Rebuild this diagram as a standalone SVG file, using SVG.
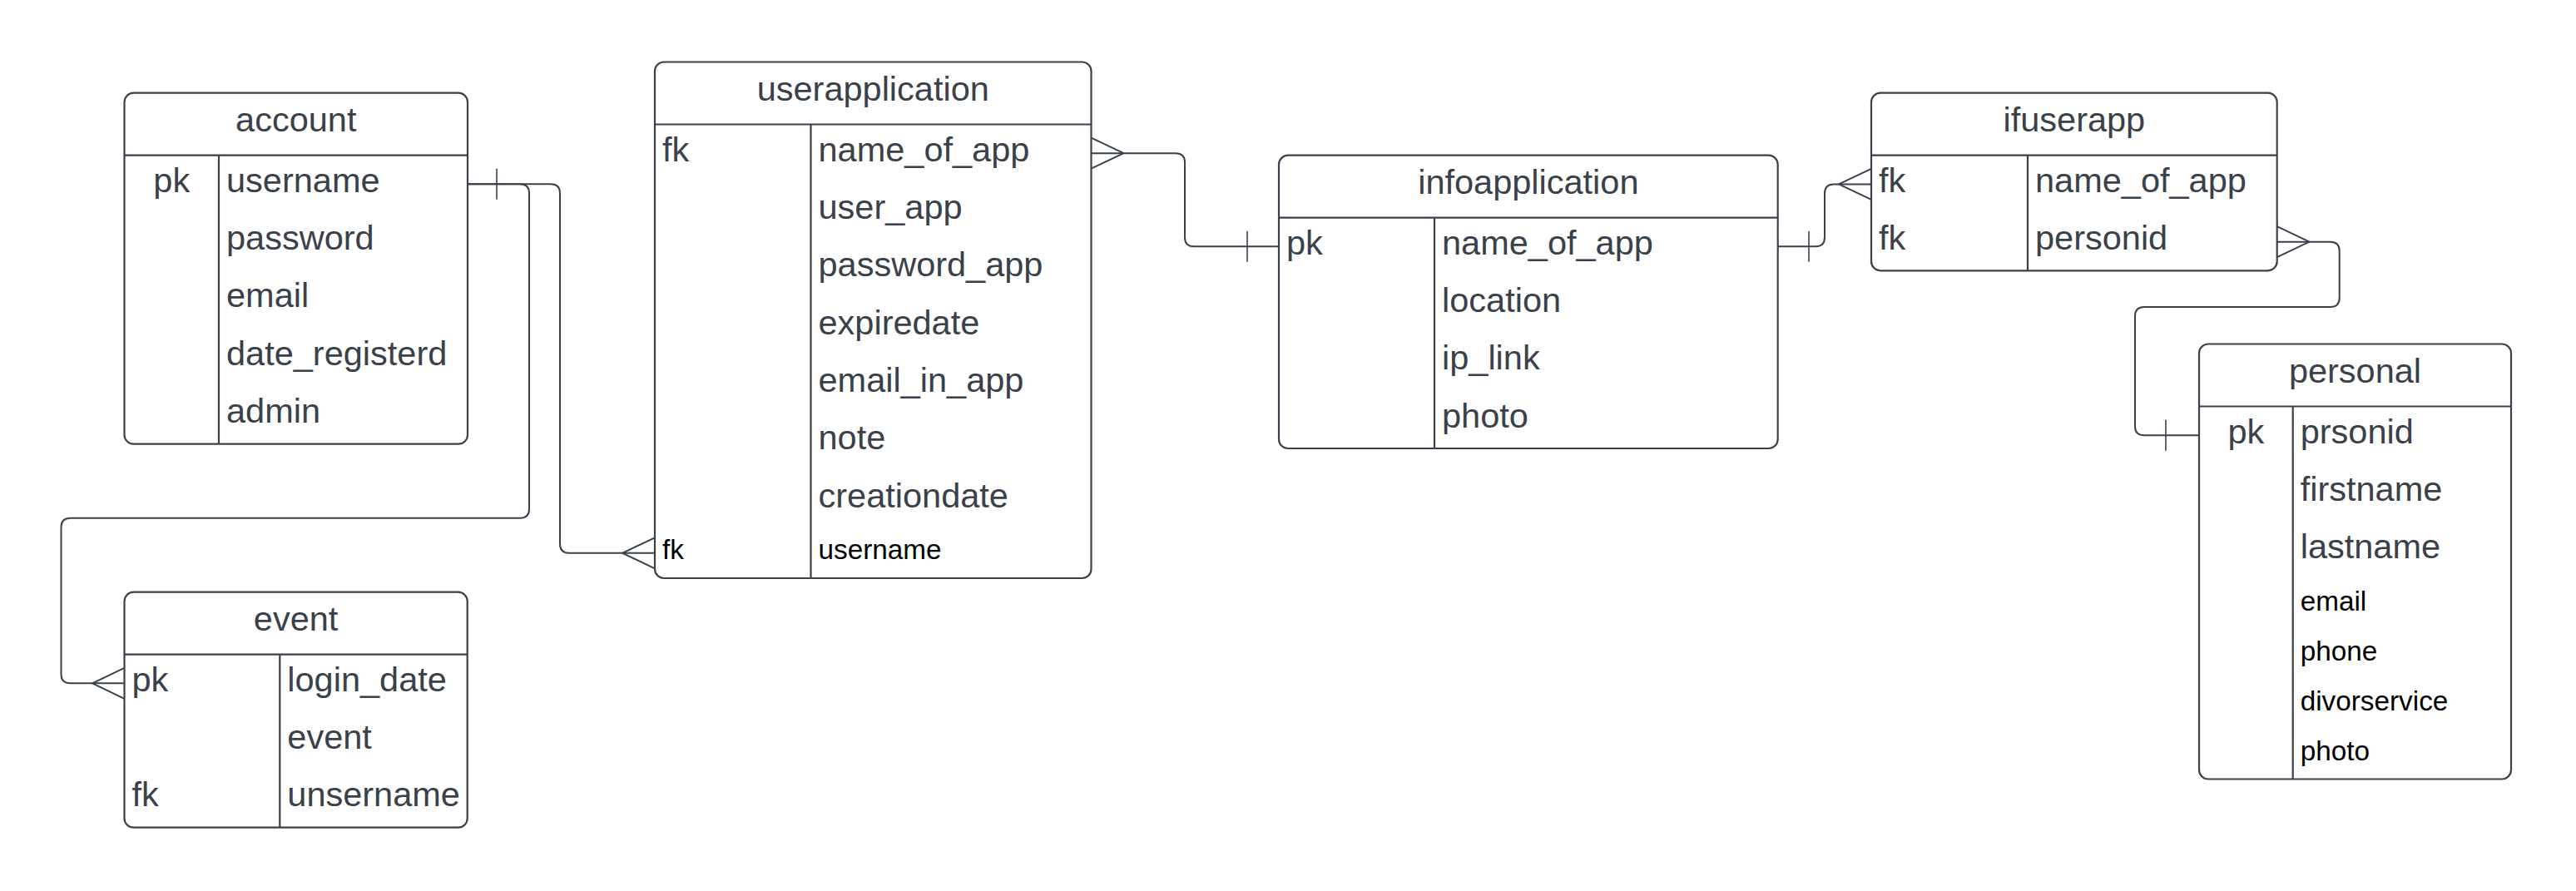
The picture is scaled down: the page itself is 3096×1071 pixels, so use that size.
<svg xmlns="http://www.w3.org/2000/svg" width="3096" height="1071" viewBox="0 0 3096 1071">
<style>
.box{fill:#ffffff;stroke:#3a414a;stroke-width:2.2}
.sep{stroke:#3a414a;stroke-width:2.2;fill:none}
.t{font-family:"Liberation Sans",Arial,sans-serif;font-size:41.5px;fill:#3a414a}
.s{font-family:"Liberation Sans",Arial,sans-serif;font-size:33.3px;fill:#000000}
.c{text-anchor:middle}
.ln{fill:none;stroke:#3a414a;stroke-width:2}
.bar{fill:none;stroke:#3a414a;stroke-width:1.6}
</style>
<rect width="3096" height="1071" fill="#ffffff"/>
<g id="connectors">
  <path class="ln" d="M562,221.3 H662 Q673,221.3 673,232.3 V653.8 Q673,664.8 684,664.8 H787"/>
  <path class="ln" d="M748,664.8 L787,646.3 M748,664.8 L787,683.3"/>
  <path class="ln" d="M562,221.3 H625 Q636,221.3 636,232.3 V611.7 Q636,622.7 625,622.7 H84.5 Q73.5,622.7 73.5,633.7 V810.3 Q73.5,821.3 84.5,821.3 H149.5"/>
  <path class="ln" d="M111,821.3 L149.5,802.8 M111,821.3 L149.5,839.8"/>
  <path class="bar" d="M597,202.8 V239.8"/>
  <path class="ln" d="M1311.5,184.2 H1413 Q1424,184.2 1424,195.2 V285.3 Q1424,296.3 1435,296.3 H1537"/>
  <path class="ln" d="M1350.5,184.2 L1311.5,165.7 M1350.5,184.2 L1311.5,202.7"/>
  <path class="bar" d="M1499,277.8 V314.8"/>
  <path class="ln" d="M2136.7,296.3 H2182 Q2193,296.3 2193,285.3 V232.4 Q2193,221.4 2204,221.4 H2249"/>
  <path class="bar" d="M2174,277.8 V314.8"/>
  <path class="ln" d="M2210,221.4 L2249,202.9 M2210,221.4 L2249,239.9"/>
  <path class="ln" d="M2736.7,290.7 H2800.7 Q2811.7,290.7 2811.7,301.7 V358 Q2811.7,369 2800.7,369 H2577 Q2566,369 2566,380 V512.2 Q2566,523.2 2577,523.2 H2643"/>
  <path class="ln" d="M2775.5,290.7 L2736.7,272.2 M2775.5,290.7 L2736.7,309.2"/>
  <path class="bar" d="M2603,504.7 V541.7"/>
</g>
<g id="account">
  <rect class="box" x="149.5" y="111.7" width="412.5" height="422" rx="11"/>
  <path class="sep" d="M149.5,186.7 H562 M263,186.7 V533.7"/>
  <text class="t c" x="355.75" y="158.2">account</text>
  <text class="t c" x="206.25" y="230.7">pk</text>
  <text class="t" x="272" y="230.7">username</text>
  <text class="t" x="272" y="300">password</text>
  <text class="t" x="272" y="369.3">email</text>
  <text class="t" x="272" y="438.7">date_registerd</text>
  <text class="t" x="272" y="508">admin</text>
</g>
<g id="userapplication">
  <rect class="box" x="787" y="74.5" width="524.5" height="620.5" rx="11"/>
  <path class="sep" d="M787,149.5 H1311.5 M974.5,149.5 V695"/>
  <text class="t c" x="1049.25" y="121">userapplication</text>
  <text class="t" x="796" y="193.5">fk</text>
  <text class="t" x="983.5" y="193.5">name_of_app</text>
  <text class="t" x="983.5" y="262.8">user_app</text>
  <text class="t" x="983.5" y="332.2">password_app</text>
  <text class="t" x="983.5" y="401.5">expiredate</text>
  <text class="t" x="983.5" y="470.8">email_in_app</text>
  <text class="t" x="983.5" y="540.2">note</text>
  <text class="t" x="983.5" y="609.5">creationdate</text>
  <text class="s" x="796" y="672.3">fk</text>
  <text class="s" x="983.5" y="672.3">username</text>
</g>
<g id="infoapplication">
  <rect class="box" x="1537" y="186.7" width="599.7" height="352.3" rx="11"/>
  <path class="sep" d="M1537,261.7 H2136.7 M1724,261.7 V539"/>
  <text class="t c" x="1836.85" y="233.2">infoapplication</text>
  <text class="t" x="1546" y="305.7">pk</text>
  <text class="t" x="1733" y="305.7">name_of_app</text>
  <text class="t" x="1733" y="375">location</text>
  <text class="t" x="1733" y="444.3">ip_link</text>
  <text class="t" x="1733" y="513.7">photo</text>
</g>
<g id="ifuserapp">
  <rect class="box" x="2249" y="111.7" width="487.7" height="213.6" rx="11"/>
  <path class="sep" d="M2249,186.7 H2736.7 M2437,186.7 V325.3"/>
  <text class="t c" x="2492.85" y="158.2">ifuserapp</text>
  <text class="t" x="2258" y="230.7">fk</text>
  <text class="t" x="2446" y="230.7">name_of_app</text>
  <text class="t" x="2258" y="300">fk</text>
  <text class="t" x="2446" y="300">personid</text>
</g>
<g id="personal">
  <rect class="box" x="2643" y="413.5" width="375" height="523" rx="11"/>
  <path class="sep" d="M2643,488.5 H3018 M2755.7,488.5 V936.5"/>
  <text class="t c" x="2830.5" y="460">personal</text>
  <text class="t c" x="2699.35" y="532.5">pk</text>
  <text class="t" x="2764.7" y="532.5">prsonid</text>
  <text class="t" x="2764.7" y="601.8">firstname</text>
  <text class="t" x="2764.7" y="671.2">lastname</text>
  <text class="s" x="2764.7" y="734">email</text>
  <text class="s" x="2764.7" y="794">phone</text>
  <text class="s" x="2764.7" y="854">divorservice</text>
  <text class="s" x="2764.7" y="914">photo</text>
</g>
<g id="event">
  <rect class="box" x="149.5" y="711.7" width="412.2" height="283" rx="11"/>
  <path class="sep" d="M149.5,786.7 H561.7 M336.3,786.7 V994.7"/>
  <text class="t c" x="355.6" y="758.2">event</text>
  <text class="t" x="158.5" y="830.7">pk</text>
  <text class="t" x="345.3" y="830.7">login_date</text>
  <text class="t" x="345.3" y="900">event</text>
  <text class="t" x="158.5" y="969.3">fk</text>
  <text class="t" x="345.3" y="969.3">unsername</text>
</g>
</svg>
